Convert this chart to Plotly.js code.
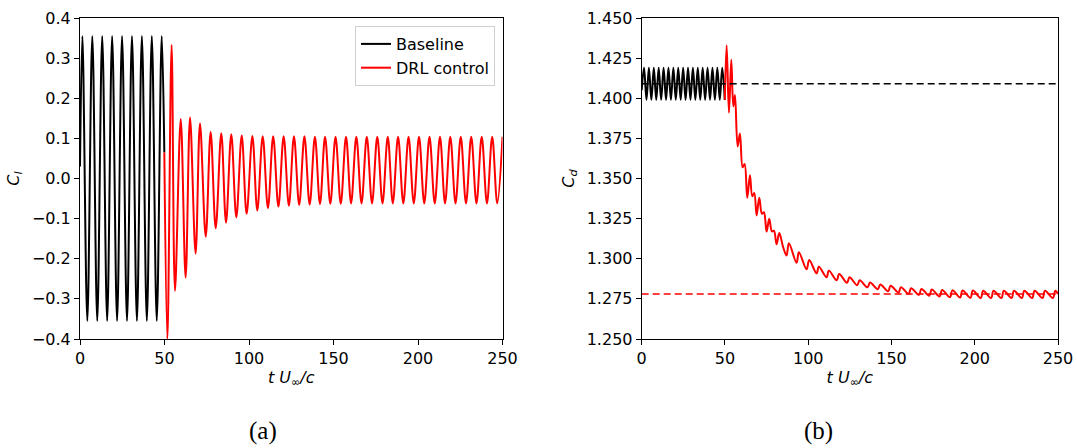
<!DOCTYPE html>
<html>
<head>
<meta charset="utf-8">
<script src="https://cdn.plot.ly/plotly-3.0.1.min.js"></script>
<style>html,body{margin:0;padding:0;background:#fff;}#chart{width:1077px;height:448px;}</style>
</head>
<body>
<div id="chart"></div>
<script>
// ---- Data (extrema of each signal) ----
// (a) lift coefficient, baseline
const clBaseT = [0, 1.4, 4.33, 7.27, 10.2, 13.14, 16.07, 19.01, 21.94, 24.88, 27.81,
                 30.75, 33.68, 36.62, 39.55, 42.49, 45.42, 48.36, 49.9];
const clBaseV = [0.03, 0.355, -0.355, 0.355, -0.355, 0.355, -0.355, 0.355, -0.355, 0.355, -0.355,
                 0.355, -0.355, 0.355, -0.355, 0.355, -0.355, 0.355, 0.065];

// (a) lift coefficient, DRL control
const clCtrlT = [49.9, 51.7,
  54.2, 56.2, 59.6, 62.5, 65.1, 68.4, 71.0, 74.4, 77.3, 80.3,
  83.6, 86.4, 89.5, 92.5, 95.7, 98.6, 102.0, 104.9, 108.1, 111.2,
  114.3, 117.4, 120.5, 123.6, 126.6, 129.7, 132.8, 135.9, 139.0, 142.0,
  145.0, 148.1, 151.2, 154.3, 157.4, 160.4, 163.5, 166.6, 169.7, 172.8,
  175.9, 179.0, 182.1, 185.1, 188.2, 191.3, 194.4, 197.5, 200.6, 203.7,
  206.8, 209.9, 213.0, 216.0, 219.1, 222.2, 225.3, 228.4, 231.5, 234.6,
  237.7, 240.8, 243.9, 246.9, 250.0];
const clCtrlV = [0.065, -0.40,
  0.333, -0.280, 0.148, -0.247, 0.152, -0.187, 0.137, -0.145, 0.116, -0.124,
  0.113, -0.110, 0.110, -0.097, 0.107, -0.088, 0.106, -0.080, 0.105, -0.074,
  0.105, -0.070, 0.105, -0.068, 0.105, -0.066, 0.105, -0.065, 0.104, -0.064,
  0.104, -0.063, 0.104, -0.063, 0.104, -0.062, 0.104, -0.062, 0.104, -0.062,
  0.104, -0.062, 0.104, -0.062, 0.104, -0.062, 0.104, -0.062, 0.104, -0.062,
  0.104, -0.062, 0.104, -0.062, 0.104, -0.062, 0.104, -0.062, 0.104, -0.062,
  0.104, -0.062, 0.104, -0.062, 0.104];

// (b) drag coefficient, baseline
const cdBaseT = [0, 1.4, 2.87, 4.33, 5.8, 7.27, 8.73, 10.2, 11.67, 13.14,
  14.6, 16.07, 17.54, 19.01, 20.47, 21.94, 23.41, 24.88, 26.34, 27.81,
  29.28, 30.75, 32.21, 33.68, 35.15, 36.62, 38.08, 39.55, 41.02, 42.49,
  43.95, 45.42, 46.89, 48.36, 49.9];
const cdBaseV = [1.405, 1.419, 1.399, 1.419, 1.399, 1.419, 1.399, 1.419, 1.399, 1.419,
  1.399, 1.419, 1.399, 1.419, 1.399, 1.419, 1.399, 1.419, 1.399, 1.419,
  1.399, 1.419, 1.399, 1.419, 1.399, 1.419, 1.399, 1.419, 1.399, 1.419,
  1.399, 1.419, 1.399, 1.419, 1.399];

// (b) drag coefficient, DRL control
const cdCtrlT = [49.9, 51.0, 52.4, 53.8, 55.0, 56.0, 57.6, 59.0, 60.6, 61.8,
  63.4, 65.0, 66.4, 67.6, 69.0, 70.6, 72.2, 73.4, 75.0, 76.6,
  78.2, 79.4, 81.0, 82.6, 85.0, 87.0, 88.4, 93.0, 94.4, 99.0,
  100.6, 105.0, 106.4, 111.0, 112.4, 117.1, 118.6, 123.3, 124.8, 129.4,
  130.9, 135.6, 137.1, 141.8, 143.3, 148.0, 149.5, 154.2, 155.7, 160.3,
  161.8, 166.5, 168.0, 172.7, 174.2, 178.9, 180.4, 185.1, 186.6, 191.2,
  192.7, 197.4, 198.9, 203.6, 205.1, 209.8, 211.3, 216.0, 217.5, 222.1,
  223.6, 228.3, 229.8, 234.5, 236.0, 240.7, 242.2, 246.9, 248.4, 250.0];
const cdCtrlV = [1.399, 1.433, 1.391, 1.424, 1.395, 1.402, 1.370, 1.378, 1.357, 1.359,
  1.338, 1.352, 1.339, 1.341, 1.327, 1.338, 1.328, 1.329, 1.317, 1.325,
  1.317, 1.3175, 1.309, 1.316, 1.307, 1.302, 1.3096, 1.2975, 1.304, 1.2934,
  1.2992, 1.2909, 1.295, 1.2884, 1.2926, 1.2866, 1.2905, 1.285, 1.2885, 1.2835,
  1.2866, 1.2822, 1.2852, 1.281, 1.284, 1.2798, 1.2832, 1.279, 1.2822, 1.2782,
  1.2816, 1.2775, 1.2812, 1.277, 1.2808, 1.2765, 1.2805, 1.2761, 1.2803, 1.2758,
  1.2802, 1.2756, 1.2802, 1.2755, 1.2801, 1.2755, 1.2801, 1.2755, 1.2801, 1.2755,
  1.2801, 1.2755, 1.2801, 1.2755, 1.2801, 1.2755, 1.2801, 1.2755, 1.2801, 1.278];

// mean drag levels (dashed)
const meanT = [0, 250];
const cdBaseMean = [1.409, 1.409];
const cdCtrlMean = [1.278, 1.278];

// labels
const seriesNames = ['Baseline', 'DRL control'];
const captions = ['(a)', '(b)'];

// ---- Figure ----
const W = 1077, H = 448;
const xDomA = [80 / W, 502.5 / W];
const xDomB = [641.7 / W, 1058 / W];
const yDom = [1 - 339 / H, 1 - 18 / H];

const FS = 16;
const tickFont = {family: 'DejaVu Sans', size: FS, color: '#000'};
const axisBase = {
  showline: true, mirror: true, linecolor: '#000', linewidth: 1,
  ticks: 'outside', ticklen: 5, tickwidth: 1, tickcolor: '#000',
  showgrid: false, zeroline: false, tickfont: tickFont, automargin: false
};
const xTitle = {text: '<i>t U</i><sub>∞</sub><i>/c</i>', font: {family: 'DejaVu Sans', size: FS, color: '#000'}, standoff: 4};

const traces = [
  {x: clBaseT, y: clBaseV, xaxis: 'x', yaxis: 'y', mode: 'lines', name: seriesNames[0],
   line: {color: '#000', width: 2, shape: 'spline', smoothing: 1}},
  {x: clCtrlT, y: clCtrlV, xaxis: 'x', yaxis: 'y', mode: 'lines', name: seriesNames[1],
   line: {color: '#ff0000', width: 2, shape: 'spline', smoothing: 1}},
  {x: cdBaseT, y: cdBaseV, xaxis: 'x2', yaxis: 'y2', mode: 'lines', showlegend: false,
   line: {color: '#000', width: 2, shape: 'spline', smoothing: 1}},
  {x: cdCtrlT, y: cdCtrlV, xaxis: 'x2', yaxis: 'y2', mode: 'lines', showlegend: false,
   line: {color: '#ff0000', width: 2, shape: 'spline', smoothing: 1}},
  {x: meanT, y: cdBaseMean, xaxis: 'x2', yaxis: 'y2', mode: 'lines', showlegend: false,
   line: {color: '#000', width: 1.6, dash: '7px,4px'}},
  {x: meanT, y: cdCtrlMean, xaxis: 'x2', yaxis: 'y2', mode: 'lines', showlegend: false,
   line: {color: '#ff0000', width: 1.6, dash: '7px,4px'}}
];

const layout = {
  width: W, height: H,
  margin: {l: 0, r: 0, t: 0, b: 0},
  paper_bgcolor: '#fff', plot_bgcolor: '#fff',
  font: {family: 'DejaVu Sans', size: FS, color: '#000'},
  showlegend: true,
  legend: {x: 495 / W, xanchor: 'right', y: 1 - 26 / H, yanchor: 'top',
           bgcolor: '#fff', bordercolor: '#d0d0d0', borderwidth: 1,
           font: {family: 'DejaVu Sans', size: FS, color: '#000'}},
  xaxis: Object.assign({}, axisBase, {domain: xDomA, anchor: 'y', range: [0, 250], dtick: 50, tick0: 0, title: xTitle}),
  yaxis: Object.assign({}, axisBase, {domain: yDom, anchor: 'x', range: [-0.4, 0.4], dtick: 0.1, tick0: 0, tickformat: '.1f',
    title: {text: '<i>C</i><sub><i>l</i></sub>', font: {family: 'DejaVu Sans', size: FS, color: '#000'}, standoff: 8}}),
  xaxis2: Object.assign({}, axisBase, {domain: xDomB, anchor: 'y2', range: [0, 250], dtick: 50, tick0: 0, title: xTitle}),
  yaxis2: Object.assign({}, axisBase, {domain: yDom, anchor: 'x2', range: [1.25, 1.45], dtick: 0.025, tick0: 1.25, tickformat: '.3f',
    title: {text: '<i>C</i><sub><i>d</i></sub>', font: {family: 'DejaVu Sans', size: FS, color: '#000'}, standoff: 8}}),
  annotations: [
    {text: captions[0], xref: 'paper', yref: 'paper', x: 263 / W, y: 1 - 431 / H, xanchor: 'center', yanchor: 'middle',
     showarrow: false, font: {family: 'Liberation Serif', size: 25, color: '#000'}},
    {text: captions[1], xref: 'paper', yref: 'paper', x: 818 / W, y: 1 - 431 / H, xanchor: 'center', yanchor: 'middle',
     showarrow: false, font: {family: 'Liberation Serif', size: 25, color: '#000'}}
  ]
};

Plotly.newPlot('chart', traces, layout, {staticPlot: true, displayModeBar: false});
</script>
</body>
</html>
